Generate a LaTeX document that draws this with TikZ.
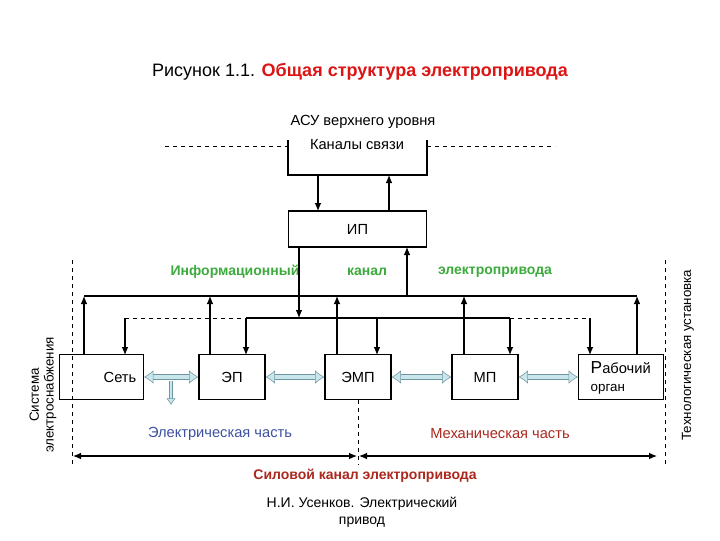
\documentclass[tikz,border=0pt]{standalone}
\usepackage{fontspec}
\setmainfont{Liberation Sans}
\usetikzlibrary{arrows.meta}
\definecolor{grn}{RGB}{60,170,60}
\definecolor{rd}{RGB}{220,20,20}
\definecolor{drd}{RGB}{170,40,30}
\definecolor{blu}{RGB}{60,80,160}
\definecolor{lb}{RGB}{200,230,235}
\definecolor{lbd}{RGB}{110,150,160}
\begin{document}
\begin{tikzpicture}[x=0.75pt,y=-0.75pt,font=\fontsize{11}{13}\selectfont,
 box/.style={draw,thick,minimum height=34pt,inner sep=0pt},
 ar/.style={thick,-{Latex[length=6pt,width=5pt]}},
 dsh/.style={dashed,thin},
 dbl/.style={draw=lbd,double=lb,double distance=3.5pt,{Latex[length=7pt,width=10pt,open,fill=lb]}-{Latex[length=7pt,width=10pt,open,fill=lb]}}]
\useasboundingbox (0,0) rectangle (720,540);
\node (title) at (360,72) {\fontsize{13.5}{15}\selectfont Рисунок 1.1. \textcolor{rd}{\bfseries Общая структура электропривода}};
\node (asu) at (363,122) {АСУ верхнего уровня};
\draw[thick] (288,140) -- (288,175) -- (427,175) -- (427,140);
\node (kan) at (357,145) {Каналы связи};
\coordinate (k1) at (318,175); \coordinate (k2) at (389,175);
\draw[dsh] (165,146) -- (288,146) (427,146) -- (555,146);
\node[box,minimum width=104pt,minimum height=27pt] (ip) at (357.5,229) {ИП};
\draw[ar] (k1) -- (318,211);
\draw[ar] (389,211) -- (k2);
\node[text=grn,font=\fontsize{10.5}{12}\selectfont\bfseries] (l1) at (235,272) {Информационный};
\node[text=grn,font=\fontsize{10.5}{12}\selectfont\bfseries] (l2) at (367,272) {канал};
\node[text=grn,font=\fontsize{10.5}{12}\selectfont\bfseries] (l3) at (495,272) {электропривода};
% boxes
\node[box,minimum width=63pt,anchor=east] (set) at (144,377) {};
\node[anchor=east] at (141,377) {Сеть};
\node[box,minimum width=49.5pt] (ep) at (232,377) {ЭП};
\node[box,minimum width=49.5pt] (emp) at (358,377) {ЭМП};
\node[box,minimum width=49.5pt] (mp) at (485,377) {МП};
\node[box,minimum width=64pt,anchor=west] (ro) at (578,377) {};
\node[anchor=west] at (586,368) {\fontsize{13}{14}\selectfont Р\fontsize{11}{12}\selectfont абочий};
\node[anchor=west] at (586,389) {\fontsize{10}{11}\selectfont орган};
% upper bus
\draw[thick] (84,296) -- (637,296);
\draw[ar] (407,296) -- (407,247);
\foreach \x in {84,210,337,464,637} \draw[ar] (\x,355) -- (\x,296);
% lower bus
\draw[ar] (299,247) -- (299,318);
\draw[dsh] (125,318) -- (246,318) (510,318) -- (590,318);
\draw[thick] (246,318) -- (510,318);
\foreach \x in {125,246,377,510,590} \draw[ar] (\x,318) -- (\x,355);
% power arrows
\draw[dbl] (set.east) -- (ep.west);
\draw[dbl] (ep.east) -- (emp.west);
\draw[dbl] (emp.east) -- (mp.west);
\draw[dbl] (mp.east) -- (ro.west);
\draw[draw=lbd,double=lb,double distance=2pt,-{Latex[length=5pt,width=7pt,open,fill=lb]}] (171,381) -- (171,405);
% dashed verticals
\draw[dsh] (72,260) -- (72,465) (665,260) -- (665,465) (358,400) -- (358,465);
\node[text=blu] (el) at (220,434) {Электрическая часть};
\node[text=drd] (me) at (500,434) {Механическая часть};
\draw[thick,{Latex[length=6pt,width=5pt]}-{Latex[length=6pt,width=5pt]}] (73,456) -- (357,456);
\draw[thick,{Latex[length=6pt,width=5pt]}-{Latex[length=6pt,width=5pt]}] (359,456) -- (657,456);
\node[text=drd,font=\fontsize{10.5}{12}\selectfont\bfseries] (sil) at (365,476) {Силовой канал электропривода};
\node[align=center,font=\fontsize{10.5}{12.5}\selectfont] (ft) at (362,512) {Н.И. Усенков. Электрический\\привод};
\node[rotate=90,align=center,font=\fontsize{10}{11}\selectfont] (sys) at (43,395) {Система\\электроснабжения};
\node[rotate=90,font=\fontsize{10}{11}\selectfont] (tech) at (688,355) {Технологическая установка};
\end{tikzpicture}
\end{document}
